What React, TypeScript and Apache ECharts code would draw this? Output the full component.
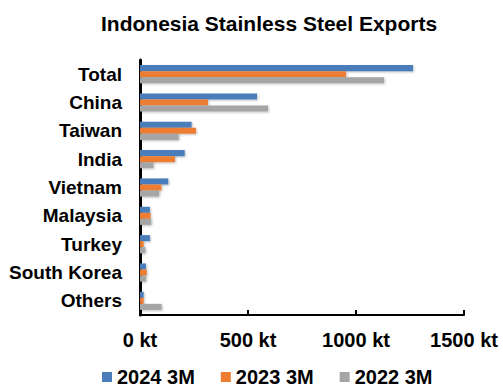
import React, { useEffect, useRef } from "react";
import * as echarts from "echarts";

const categories = ["Total", "China", "Taiwan", "India", "Vietnam", "Malaysia", "Turkey", "South Korea", "Others"];
const s2024 = [1264, 542, 239, 207, 131, 46, 46, 28, 17];
const s2023 = [954, 315, 259, 162, 99, 49, 17, 31, 17];
const s2022 = [1130, 593, 179, 62, 89, 52, 25, 28, 100];
const seriesNames = ["2024 3M", "2023 3M", "2022 3M"];
const colors = ["#4a7ebb", "#ed7d31", "#a5a5a5"];

export default function App() {
  const ref = useRef<HTMLDivElement>(null);
  useEffect(() => {
    const chart = echarts.init(ref.current!, null, { renderer: "svg" });
    const font = "'Liberation Sans', Arial, sans-serif";
    const mk = (name: string, data: number[], color: string) => ({
      name,
      type: "bar",
      data,
      barGap: "0%",
      barCategoryGap: "36%",
      itemStyle: { color, shadowColor: "rgba(0,0,0,0.25)", shadowBlur: 2, shadowOffsetX: 1, shadowOffsetY: 1 },
    });
    chart.setOption({
      animation: false,
      textStyle: { fontFamily: font },
      title: {
        text: "Indonesia Stainless Steel Exports",
        left: 96,
        top: 8,
        textStyle: { fontSize: 21, fontWeight: "bold", color: "#000", fontFamily: font },
      },
      grid: { left: 140, right: 39, top: 60, bottom: 77, containLabel: false },
      xAxis: {
        type: "value",
        min: 0,
        max: 1500,
        interval: 500,
        axisLine: { show: true, lineStyle: { color: "#000", width: 2 } },
        axisTick: { show: true, inside: true, length: 5, lineStyle: { color: "#000", width: 2 } },
        splitLine: { show: false },
        axisLabel: {
          formatter: (v: number) => `${v} kt`,
          fontSize: 20,
          fontWeight: "bold",
          color: "#000",
          margin: 15,
        },
      },
      yAxis: {
        type: "category",
        data: categories,
        inverse: true,
        axisLine: { show: true, lineStyle: { color: "#000", width: 3 } },
        axisTick: { show: false },
        axisLabel: { fontSize: 19, fontWeight: "bold", color: "#000", margin: 18 },
      },
      legend: {
        bottom: 0,
        left: 97,
        itemWidth: 10,
        itemHeight: 10,
        itemGap: 26,
        icon: "rect",
        textStyle: { fontSize: 20, fontWeight: "bold", color: "#000", lineHeight: 20 },
        data: seriesNames,
      },
      series: [mk(seriesNames[0], s2024, colors[0]), mk(seriesNames[1], s2023, colors[1]), mk(seriesNames[2], s2022, colors[2])],
    });
    return () => chart.dispose();
  }, []);
  return <div ref={ref} style={{ width: 503, height: 392, position: "absolute", left: 0, top: 0 }} />;
}
